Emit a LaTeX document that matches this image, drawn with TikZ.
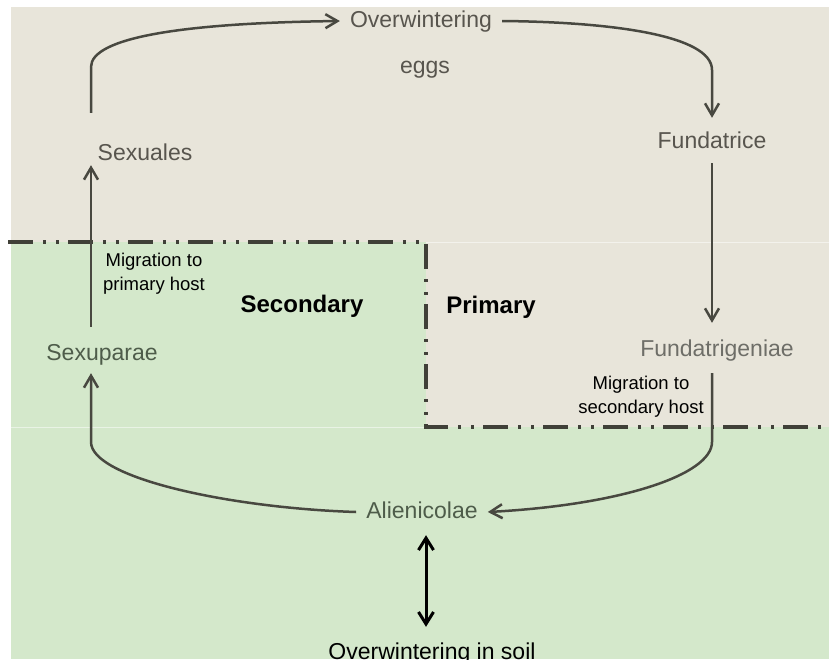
\documentclass[tikz,border=0pt]{standalone}
\usepackage{fontspec}
\setmainfont{Liberation Sans}
\usepackage{tikz}
\usetikzlibrary{arrows.meta,positioning}
\definecolor{bg_beige}{RGB}{232,229,218}
\definecolor{bg_green}{RGB}{212,232,203}
\definecolor{stage_gray}{RGB}{88,85,78}
\definecolor{stage_green}{RGB}{78,92,74}
\definecolor{stage_light}{RGB}{110,110,104}
\definecolor{line_gray}{RGB}{72,72,64}
\definecolor{border_gray}{RGB}{64,64,56}

\begin{document}
\begin{tikzpicture}[x=1pt, y=-1pt, auto,
stage/.style ={font=\fontsize{23}{27}\selectfont, text=stage_gray, inner xsep=10pt, inner ysep=0pt, text height=17pt, text depth=5pt, anchor=base},
stage_low/.style ={stage, text=stage_green},
host_label/.style ={font=\fontsize{24}{28}\selectfont\bfseries, text=black, inner sep=0pt, anchor=base},
migration/.style ={font=\fontsize{18.5}{24}\selectfont, text=black, align=center, inner sep=0pt},
border/.style ={draw=border_gray, line width=3.5pt, dash pattern=on 25pt off 10pt on 3pt off 10pt on 3pt off 9pt},
line/.style ={draw=line_gray, line width=2.5pt, -{Straight Barb[length=12pt,width=14pt]}}]
  \useasboundingbox (0,0) rectangle (829,659);
  % host regions
    \fill[bg_beige] (11,7) rectangle (829,242);
    \fill[bg_beige] (426,242) rectangle (829,427);
    \fill[bg_green] (11,242) rectangle (426,427);
    \fill[bg_green] (11,427) rectangle (829,659);
    \draw[white, opacity=0.5, line width=0.8pt] (11,427) -- (426,427);
    \draw[white, opacity=0.5, line width=0.8pt] (426,242) -- (829,242);
    \draw[border] (8,242) -- (426,242) -- (426,427) -- (829,427);
  % columns of the connectors
    \coordinate (left_col) at (91,0);
    \coordinate (right_col) at (712,0);
    \coordinate (soil_col) at (426,0);
  % primary host - top
    \node [stage] (eggs_top) at (421,27) {Overwintering};
    \node [stage] (eggs) at (425,73) {eggs};
    \node [stage] (fundatrice) at (712,148) {Fundatrice};
    \node [stage] (sexuales) at (145,160) {Sexuales};
  % host names - middle
    \node [host_label] (secondary) at (302,312) {Secondary};
    \node [host_label] (primary) at (491,313) {Primary};
    \node [migration] (to_primary) at (154,274) {Migration to\\primary host};
    \node [migration] (to_secondary) at (641,397) {Migration to\\secondary host};
    \node [stage_low] (sexuparae) at (102,360) {Sexuparae};
    \node [stage, text=stage_light] (fundatrigeniae) at (717,356) {Fundatrigeniae};
  % secondary host - bottom
    \node [stage_low] (alienicolae) at (422,518) {Alienicolae};
    \node [stage, text=black] (soil) at (432,659) {Overwintering in soil};
  % connecting nodes with paths
    \begin{scope}[every path/.style=line]
      \path[shorten <=30pt] (sexuales.north -| left_col) -- (91,67)
        .. controls (91,38) and (180,23) .. (eggs_top.west);
      \path[shorten >=13pt] (eggs_top.east) .. controls (610,22) and (712,35) .. (712,70)
        -- (fundatrice.north -| right_col);
      \path[shorten <=10pt, shorten >=16pt] (fundatrice.south -| right_col)
        -- (fundatrigeniae.north -| right_col);
      \path[shorten <=12pt] (fundatrigeniae.south -| right_col) -- (712,442)
        .. controls (712,475) and (620,505) .. (alienicolae.east);
      \path[shorten >=8pt] (alienicolae.west) .. controls (230,508) and (91,478) .. (91,442)
        -- (sexuparae.south -| left_col);
      \path[shorten <=16pt] (sexuparae.north -| left_col) -- (sexuales.south -| left_col);
    \end{scope}
    \draw[black, line width=3pt, {Straight Barb[length=12pt,width=15pt]}-{Straight Barb[length=12pt,width=15pt]},
      shorten <=12pt, shorten >=15pt] (alienicolae.south -| soil_col) -- (soil.north -| soil_col);
\end{tikzpicture}
\end{document}
